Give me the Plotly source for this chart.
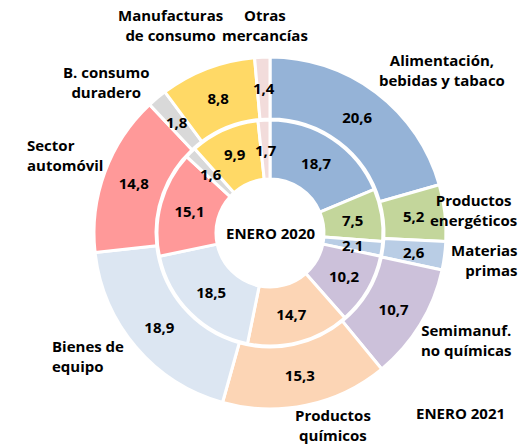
import math
import plotly.graph_objects as go

categories = ["Alimentación, bebidas y tabaco", "Productos energéticos", "Materias primas",
              "Semimanuf. no químicas", "Productos químicos", "Bienes de equipo",
              "Sector automóvil", "B. consumo duradero", "Manufacturas de consumo",
              "Otras mercancías"]
values_2021 = [20.6, 5.2, 2.6, 10.7, 15.3, 18.9, 14.8, 1.8, 8.8, 1.4]
values_2020 = [18.7, 7.5, 2.1, 10.2, 14.7, 18.5, 15.1, 1.6, 9.9, 1.7]
colors = ["#95B3D7", "#C3D69B", "#B9CDE5", "#CCC1DA", "#FCD5B5", "#DCE6F2",
          "#FF9999", "#D9D9D9", "#FFD966", "#F2DCDB"]

def fmt(v):
    return f"{v:.1f}".replace(".", ",")

W, H = 529, 444
cx, cy = 270, 233
r_out, r_in = 176, 113
hole_out, hole_in = 114, 54
SMALL = 8.0  # labels of slices smaller than this are placed at the ring's mid radius

def dom(r):
    return dict(x=[(cx - r) / W, (cx + r) / W],
                y=[(H - cy - r) / H, (H - cy + r) / H])

font = dict(family="Open Sans, sans-serif", size=15, color="#000000", weight="bold")

fig = go.Figure()
rings = [(values_2021, r_out, hole_out), (values_2020, r_in, hole_in)]
annotations = []
for vals, r, h in rings:
    texts = [fmt(v) if v >= SMALL else "" for v in vals]
    fig.add_trace(go.Pie(
        labels=categories, values=vals, text=texts,
        textinfo="text", textposition="inside", insidetextorientation="horizontal",
        sort=False, direction="clockwise", rotation=0, hole=h / r,
        marker=dict(colors=colors, line=dict(color="white", width=3)),
        domain=dom(r), textfont=font, showlegend=False, hoverinfo="label+value"))
    total = sum(vals)
    r_mid = (r + h) / 2
    cum = 0.0
    for v in vals:
        ang = (cum + v / 2) / total * 2 * math.pi
        cum += v
        if v >= SMALL:
            continue
        px = cx + r_mid * math.sin(ang)
        py = cy - r_mid * math.cos(ang)
        annotations.append(dict(text=fmt(v), x=px / W, y=1 - py / H, xref="paper", yref="paper",
                                showarrow=False, font=font, xanchor="center", yanchor="middle"))

label_text = ["Alimentación,<br>bebidas y tabaco", "Productos<br>energéticos", "Materias<br>primas",
              "Semimanuf.<br>no químicas", "Productos<br>químicos", "Bienes de<br>equipo",
              "Sector<br>automóvil", "B. consumo<br>duradero", "Manufacturas<br>de consumo",
              "Otras<br>mercancías"]
label_pos = [(442, 70, "center"), (473, 210, "center"), (484, 260, "right"),
             (466, 340, "center"), (333, 425, "center"), (88, 356, "left"),
             (65, 155, "left"), (106, 82, "center"), (170, 25, "center"),
             (265, 25, "center")]

for t, (x, y, al) in zip(label_text, label_pos):
    annotations.append(dict(text=t, x=x / W, y=1 - y / H, xref="paper", yref="paper",
                            showarrow=False, align=al, font=font, xanchor="center", yanchor="middle"))
annotations.append(dict(text="ENERO 2020", x=cx / W, y=1 - cy / H, xref="paper", yref="paper",
                        showarrow=False, font=font, xanchor="center", yanchor="middle"))
annotations.append(dict(text="ENERO 2021", x=460 / W, y=1 - 413 / H, xref="paper", yref="paper",
                        showarrow=False, font=font, xanchor="center", yanchor="middle"))

fig.update_layout(width=W, height=H, margin=dict(l=0, r=0, t=0, b=0),
                  paper_bgcolor="white", plot_bgcolor="white",
                  uniformtext=dict(minsize=15, mode="show"),
                  annotations=annotations)
fig.write_html("out.html", config={"displayModeBar": False},
               post_script="document.body.style.margin='0px';")
